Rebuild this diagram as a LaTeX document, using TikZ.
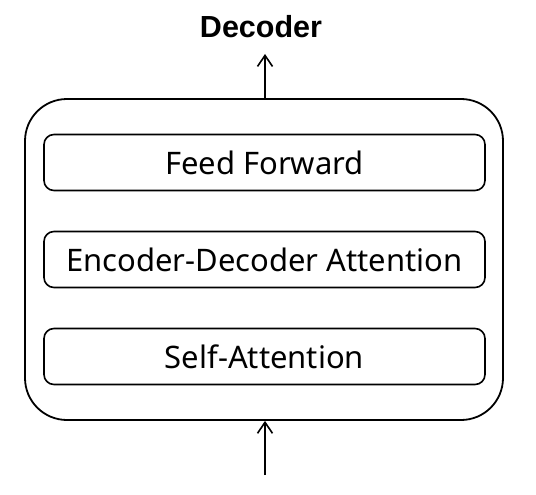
\documentclass[tikz,border=0pt]{standalone}
\usepackage{fontspec}
\setmainfont{Noto Sans}
\newfontfamily\labelfont{Liberation Sans}
\usetikzlibrary{arrows.meta}
\tikzset{
  layerbox/.style={draw, line width=1.6pt, rounded corners=10pt, minimum width=441pt, minimum height=56pt, inner sep=0pt, font=\fontsize{31}{36}\selectfont},
  outerbox/.style={draw, line width=1.8pt, rounded corners=42pt, minimum width=478pt, minimum height=321pt, inner sep=0pt},
  flow/.style={line width=1.6pt, -{Straight Barb[length=11pt,width=15pt,line width=1.6pt]}}
}
\begin{document}
\begin{tikzpicture}[x=1pt,y=-1pt]
\useasboundingbox (0,0) rectangle (536,495);
\node[outerbox] (dec) at (264,259.5) {};
\node[layerbox] (ff) at (264.5,162.5) {Feed Forward};
\node[layerbox] (eda) at (264.5,259.5) {Encoder-Decoder Attention};
\node[layerbox] (sa) at (264.5,356.5) {Self-Attention};
\node[font=\labelfont\bfseries\fontsize{30.5}{34}\selectfont] (lbl) at (261,27) {Decoder};
\coordinate (in) at (265,475);
\coordinate (out) at (265,54);
\draw[flow] (dec.north -| out) -- (out);
\draw[flow] (in) -- (in |- dec.south);
\end{tikzpicture}
\end{document}
